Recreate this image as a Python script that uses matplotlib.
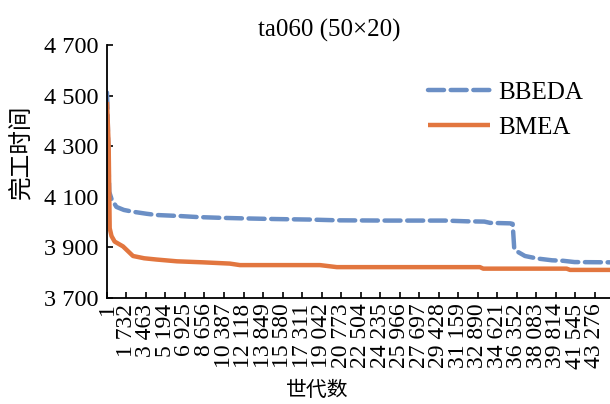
import matplotlib.pyplot as plt

plt.rcParams['font.family'] = ['Liberation Serif', 'Noto Sans CJK SC']

# BBEDA convergence curve (generation, makespan)
bbeda_gen = [1, 60, 120, 200, 390, 835, 1500, 2290, 3500, 4400, 6450, 8000,
             10000, 11800, 15000, 18000, 20500, 25000, 30000, 32000, 33500,
             34000, 35800, 36010, 36150, 36400, 37100, 38200, 39500, 40500,
             41500, 44650]
bbeda_val = [4512, 4420, 4260, 4120, 4093, 4060, 4048, 4041, 4033, 4028, 4024,
             4020, 4017, 4015, 4012, 4010, 4007, 4006, 4006, 4003, 4002, 3997,
             3995, 3993, 3895, 3884, 3866, 3856, 3849, 3847, 3842, 3841]

# BMEA convergence curve (generation, makespan)
bmea_gen = [1, 150, 240, 400, 680, 1420, 2310, 3300, 4400, 6200, 8500, 10900,
            11800, 18900, 20400, 33100, 33400, 40800, 41100, 44650]
bmea_val = [4475, 4300, 3976, 3945, 3923, 3904, 3866, 3857, 3852, 3845, 3841,
            3836, 3830, 3830, 3822, 3822, 3816, 3816, 3811, 3811]

x_ticks = [1, 1732, 3463, 5194, 6925, 8656, 10387, 12118, 13849, 15580, 17311,
           19042, 20773, 22504, 24235, 25966, 27697, 29428, 31159, 32890,
           34621, 36352, 38083, 39814, 41545, 43276]
y_ticks = [3700, 3900, 4100, 4300, 4500, 4700]


def fmt(v):
    return f"{v:,}".replace(",", " ")


fig = plt.figure(figsize=(6.1, 4.04), dpi=100)
ax = fig.add_axes([0.1754, 0.2624, 0.8246, 0.6262])

ax.plot(bbeda_gen, bbeda_val, color='#6b8fc5', lw=3.2,
        linestyle=(0, (3.6, 1.5)), dash_capstyle='round', label='BBEDA')
ax.plot(bmea_gen, bmea_val, color='#e2763f', lw=3.2,
        solid_capstyle='butt', label='BMEA')

ax.set_xlim(1, 44650)
ax.set_ylim(3700, 4700)
ax.set_xticks(x_ticks)
ax.set_xticklabels([fmt(v) for v in x_ticks], rotation=90, fontsize=17)
ax.set_yticks(y_ticks)
ax.set_yticklabels([fmt(v) for v in y_ticks], fontsize=17.5)
ax.tick_params(axis='both', direction='in', length=4, width=1.2, pad=4)
ax.tick_params(axis='y', pad=6)

for s in ['top', 'right']:
    ax.spines[s].set_visible(False)
for s in ['left', 'bottom']:
    ax.spines[s].set_linewidth(1.3)

ax.legend(loc='upper left', bbox_to_anchor=(0.618, 0.895), frameon=False,
          fontsize=18, handlelength=2.5, handletextpad=0.3,
          labelspacing=0.5, borderaxespad=0)

fig.text(329 / 610, 1 - 30 / 404, 'ta060 (50×20)', ha='center', va='center',
         fontsize=18)
fig.text(317 / 610, 1 - 391 / 404, '世代数', ha='center', va='center',
         fontsize=15)
fig.text(22 / 610, 1 - 152 / 404, '完工时间', ha='center', va='center',
         rotation=90, fontsize=17)

plt.savefig('out.png', dpi=100)
